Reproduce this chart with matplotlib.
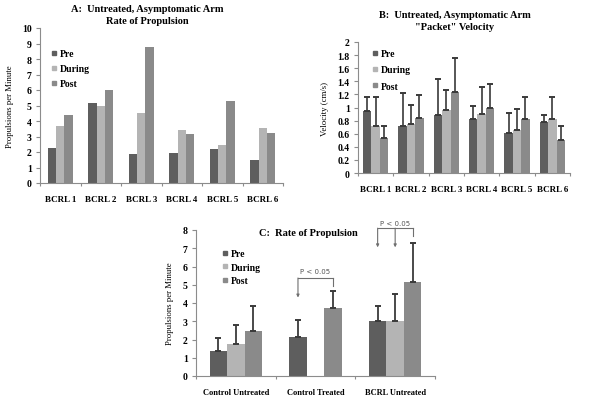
import matplotlib
matplotlib.use("Agg")
import matplotlib.pyplot as plt
import numpy as np
from matplotlib.lines import Line2D

# ---------------- data ----------------
series = ["Pre", "During", "Post"]
colors = ["#5e5e5e", "#b4b4b4", "#8a8a8a"]

a_cats = ["BCRL 1", "BCRL 2", "BCRL 3", "BCRL 4", "BCRL 5", "BCRL 6"]
a_pre = [2.23, 5.15, 1.87, 1.93, 2.19, 1.50]
a_during = [3.65, 4.96, 4.50, 3.41, 2.42, 3.54]
a_post = [4.36, 6.03, 8.80, 3.15, 5.30, 3.22]

b_cats = ["BCRL 1", "BCRL 2", "BCRL 3", "BCRL 4", "BCRL 5", "BCRL 6"]
b_pre = [0.94, 0.72, 0.89, 0.82, 0.61, 0.78]
b_during = [0.72, 0.75, 0.96, 0.90, 0.66, 0.83]
b_post = [0.54, 0.84, 1.24, 1.00, 0.82, 0.51]
b_pre_top = [1.16, 1.22, 1.44, 1.02, 0.92, 0.89]
b_during_top = [1.16, 1.04, 1.27, 1.32, 0.98, 1.16]
b_post_top = [0.71, 1.19, 1.76, 1.36, 1.16, 0.72]

c_cats = ["Control Untreated", "Control Treated", "BCRL Untreated"]
c_pre = [1.37, 2.16, 3.01]
c_during = [1.75, np.nan, 3.01]
c_post = [2.48, 3.74, 5.15]
c_pre_top = [2.06, 3.05, 3.84]
c_during_top = [2.78, np.nan, 4.51]
c_post_top = [3.85, 4.66, 7.27]

A_YTICKS = list(range(0, 11))
B_YTICKS = [0, 0.2, 0.4, 0.6, 0.8, 1, 1.2, 1.4, 1.6, 1.8, 2]
B_YTICKLABELS = ["0", "0.2", "0.4", "0.6", "0.8", "1", "1.2", "1.4", "1.6", "1.8", "2"]
C_YTICKS = list(range(0, 9))

SERIF = "Liberation Serif"
plt.rcParams["font.family"] = SERIF

fig = plt.figure(figsize=(6.0, 4.06), dpi=100)

SPINE = "#8c8c8c"
ERRC = "#3a3a3a"
LEG_FS = 7


def style_axes(ax, ncat, cats, yticks, yticklabels=None, fs=7, xfs=6.5, xpad=8):
    for s in ["top", "right"]:
        ax.spines[s].set_visible(False)
    for s in ["left", "bottom"]:
        ax.spines[s].set_color(SPINE)
        ax.spines[s].set_linewidth(0.8)
    ax.set_xlim(-0.5, ncat - 0.5)
    ax.set_xticks(np.arange(ncat))
    ax.set_xticklabels(cats, fontweight="bold", fontsize=xfs)
    ax.tick_params(axis="x", which="major", length=0, pad=xpad)
    ax.set_xticks(np.arange(ncat + 1) - 0.5, minor=True)
    ax.tick_params(axis="x", which="minor", length=2.5, color=SPINE, width=0.8)
    ax.set_yticks(yticks)
    if yticklabels is not None:
        ax.set_yticklabels(yticklabels)
    ax.tick_params(axis="y", length=3, color=SPINE, width=0.8, labelsize=fs, pad=3)
    for lab in ax.get_yticklabels():
        lab.set_fontweight("bold")


def legend(ax, x, y, spacing, fs=LEG_FS):
    handles = [Line2D([0], [0], marker="s", color="none", markerfacecolor=c,
                      markeredgecolor=c, markersize=3.4) for c in colors]
    ax.legend(handles, series, loc="upper left", bbox_to_anchor=(x, y),
              frameon=False, handlelength=0.6, handletextpad=0.3,
              labelspacing=spacing, borderaxespad=0, borderpad=0,
              prop={"family": SERIF, "weight": "bold", "size": fs})


# ---------------- Panel A ----------------
axA = fig.add_axes([40 / 600, 1 - 184 / 406, 243 / 600, 155 / 406])
x = np.arange(len(a_cats))
w = 0.205
for i, (vals, c) in enumerate(zip([a_pre, a_during, a_post], colors)):
    axA.bar(x + (i - 1) * w, vals, width=w, color=c, zorder=2)
axA.set_ylim(0, 10)
style_axes(axA, len(a_cats), a_cats, A_YTICKS, xpad=9)
axA.set_ylabel("Propulsions per Minute", fontsize=6.3, labelpad=6)
legend(axA, 0.047, 0.862, 0.62)
fig.text(147 / 600, 1 - 9 / 406, "A:  Untreated, Asymptomatic Arm", ha="center",
         va="center", fontsize=7.5, fontweight="bold")
fig.text(147 / 600, 1 - 21 / 406, "Rate of Propulsion", ha="center",
         va="center", fontsize=7.5, fontweight="bold")

# ---------------- Panel B ----------------
axB = fig.add_axes([358 / 600, 1 - 174 / 406, 212 / 600, 131 / 406])
x = np.arange(len(b_cats))
w = 0.24
vals_list = [b_pre, b_during, b_post]
tops_list = [b_pre_top, b_during_top, b_post_top]
for i, (vals, tops, c) in enumerate(zip(vals_list, tops_list, colors)):
    xs = x + (i - 1) * w
    axB.bar(xs, vals, width=w, color=c, zorder=2)
    err = np.array(tops) - np.array(vals)
    axB.errorbar(xs, vals, yerr=[np.zeros_like(err), err], fmt="none",
                 ecolor=ERRC, elinewidth=1.2, capsize=2.2, capthick=1.4, zorder=3)
axB.set_ylim(0, 2)
style_axes(axB, len(b_cats), b_cats, B_YTICKS, B_YTICKLABELS, xpad=9)
axB.set_ylabel("Velocity (cm/s)", fontsize=6.3, labelpad=6)
legend(axB, 0.068, 0.945, 0.74)
fig.text(455 / 600, 1 - 15 / 406, "B:  Untreated, Asymptomatic Arm", ha="center",
         va="center", fontsize=7.5, fontweight="bold")
fig.text(455 / 600, 1 - 28 / 406, '"Packet" Velocity', ha="center",
         va="center", fontsize=7.5, fontweight="bold")

# ---------------- Panel C ----------------
axC = fig.add_axes([196 / 600, 1 - 377 / 406, 239 / 600, 146 / 406])
x = np.arange(len(c_cats))
w = 0.22
vals_list = [c_pre, c_during, c_post]
tops_list = [c_pre_top, c_during_top, c_post_top]
for i, (vals, tops, c) in enumerate(zip(vals_list, tops_list, colors)):
    xs = x + (i - 1) * w
    v = np.array(vals, dtype=float)
    t = np.array(tops, dtype=float)
    m = ~np.isnan(v)
    axC.bar(xs[m], v[m], width=w, color=c, zorder=2)
    err = t[m] - v[m]
    axC.errorbar(xs[m], v[m], yerr=[np.zeros_like(err), err], fmt="none",
                 ecolor=ERRC, elinewidth=1.3, capsize=2.5, capthick=1.4, zorder=3)
axC.set_ylim(0, 8)
style_axes(axC, len(c_cats), c_cats, C_YTICKS, xfs=6, xpad=9)
axC.set_ylabel("Propulsions per Minute", fontsize=6.3, labelpad=6)
legend(axC, 0.111, 0.868, 0.45)
axC.text(0.47, 0.985, "C:  Rate of Propulsion", transform=axC.transAxes,
         ha="center", va="center", fontsize=7.5, fontweight="bold")

# significance brackets
BR = "#6f6f6f"
def bracket(ax, xl, xr, y, legs, text_y, text):
    ax.plot([xl, xr], [y, y], color=BR, lw=0.8, clip_on=False, zorder=4)
    for (xx, yend, arrow) in legs:
        if arrow:
            ax.annotate("", xy=(xx, yend), xytext=(xx, y),
                        arrowprops=dict(arrowstyle="-|>", color=BR, lw=0.8,
                                        mutation_scale=4, shrinkA=0, shrinkB=0),
                        annotation_clip=False)
        else:
            ax.plot([xx, xx], [y, yend], color=BR, lw=0.8, clip_on=False, zorder=4)
    ax.text((xl + xr) / 2, text_y, text, ha="center", va="center", fontsize=5,
            color="#555555", family="DejaVu Sans", clip_on=False)

bracket(axC, 1 - 0.22, 1 + 0.22, 5.37,
        [(1 - 0.22, 4.3, True), (1 + 0.22, 4.95, False)], 5.75, "P < 0.05")
bracket(axC, 2 - 0.22, 2 + 0.22, 8.1,
        [(2 - 0.22, 7.05, True), (2.0, 7.05, True), (2 + 0.22, 7.65, False)],
        8.4, "P < 0.05")

fig.savefig("out.png", dpi=100)
